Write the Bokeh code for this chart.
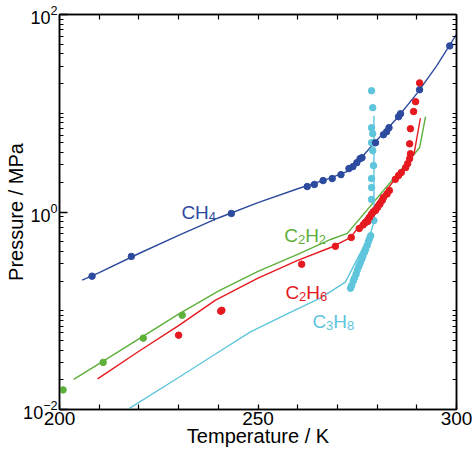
from bokeh.plotting import figure
from bokeh.models import FixedTicker, LinearAxis, LogAxis, Range1d, Label
from bokeh.embed import file_html
from bokeh.resources import INLINE

# ---------------- data ----------------
ch4_pts_T = [208.2, 218.1, 243.3, 262.4, 264.2, 266.4, 268.7, 270.9, 272.9, 273.9,
             274.9, 275.7, 276.2, 279.6, 281.6, 282.4, 283.0, 285.4, 285.9, 290.7, 298.3]
ch4_pts_P = [0.224, 0.355, 0.966, 1.81, 1.90, 2.08, 2.18, 2.39, 2.75, 2.88,
             3.16, 3.47, 3.55, 5.03, 6.06, 6.5, 7.14, 9.22, 9.89, 17.3, 48.1]
ch4_line_T = [205.7, 210, 220, 230, 240, 250, 260, 268, 273, 276, 280, 285, 290, 295, 300]
ch4_line_P = [0.204, 0.243, 0.38, 0.58, 0.87, 1.245, 1.72, 2.19, 2.63, 3.55, 5.37, 8.9, 15.8, 30.2, 63.0]

c2h2_pts_T = [200.9, 211.0, 221.1, 230.9]
c2h2_pts_P = [0.0158, 0.030, 0.0528, 0.090]
c2h2_line_T = [203.6, 210, 220, 230, 240, 250, 260, 268.3, 272.5, 290.7, 292.2]
c2h2_line_P = [0.0202, 0.0292, 0.0519, 0.0923, 0.158, 0.251, 0.372, 0.527, 0.607, 4.47, 9.23]

c2h6_pts_T = [230.0, 240.6, 240.9, 261.0, 269.5, 273.5, 275.5, 276.5, 277.0, 277.6, 278.1,
              278.6, 279.0, 279.6, 280.1, 280.7, 281.3, 281.6, 282.5, 283.1, 284.6, 285.4,
              286.1, 287.2, 287.7, 288.2, 288.4, 288.2, 288.4, 289.2, 289.7, 290.7]
c2h6_pts_P = [0.0566, 0.099, 0.101, 0.296, 0.449, 0.552, 0.681, 0.74, 0.78, 0.80, 0.881,
              0.95, 1.0, 1.035, 1.11, 1.2, 1.31, 1.40, 1.52, 1.65, 2.14, 2.34,
              2.51, 2.82, 3.09, 3.47, 3.89, 4.9, 6.97, 10.4, 13.1, 20.3]
c2h6_line_T = [209.6, 220, 230, 239.3, 250, 260, 268.3, 273.3, 289.3, 290.9]
c2h6_line_P = [0.0204, 0.0389, 0.0708, 0.128, 0.214, 0.324, 0.437, 0.55, 3.87, 8.9]

c3h8_col_T = [278.6, 278.9, 278.6, 278.9, 278.6, 278.9, 279.1, 278.6, 278.6, 278.6, 279.2]
c3h8_col_P = [16.9, 11.4, 7.14, 6.21, 5.04, 4.18, 2.95, 2.18, 1.77, 1.34, 0.82]
c3h8_streak_T = [273.3, 273.6, 274.0, 274.3, 274.7, 275.0, 275.4, 275.7, 276.1, 276.4,
                 276.8, 277.1, 277.5, 277.8, 278.1, 278.4]
c3h8_streak_P = [0.169, 0.181, 0.200, 0.214, 0.234, 0.257, 0.282, 0.302, 0.331, 0.355,
                 0.389, 0.417, 0.457, 0.501, 0.537, 0.575]
c3h8_line_T = [217.5, 230, 240, 248.1, 258, 265.8, 272.0, 278.3, 279.2, 279.2]
c3h8_line_P = [0.0102, 0.0211, 0.038, 0.0611, 0.0955, 0.135, 0.195, 0.603, 0.789, 9.44]

x_major = [200, 250, 300]
x_minor = [210, 220, 230, 240, 260, 270, 280, 290]
y_major = [0.01, 1, 100]
y_minor = [0.02, 0.03, 0.04, 0.05, 0.06, 0.07, 0.08, 0.09, 0.1,
           0.2, 0.3, 0.4, 0.5, 0.6, 0.7, 0.8, 0.9,
           2, 3, 4, 5, 6, 7, 8, 9, 10,
           20, 30, 40, 50, 60, 70, 80, 90]

BLUE = "#2d4b9e"
GREEN = "#5db03a"
RED = "#e5191f"
CYAN = "#5ec5dc"
FONT = "Liberation Sans"

p = figure(width=474, height=454, y_axis_type="log",
           x_range=Range1d(200, 300), y_range=Range1d(0.01, 100),
           output_backend="svg", toolbar_location=None,
           min_border_left=59, min_border_right=18, min_border_top=14, min_border_bottom=45)
p.xgrid.grid_line_color = None
p.ygrid.grid_line_color = None
p.outline_line_color = "black"
p.outline_line_width = 1.5
p.background_fill_color = "white"
p.border_fill_color = "white"

xt = FixedTicker(ticks=x_major, minor_ticks=x_minor)
yt = FixedTicker(ticks=y_major, minor_ticks=y_minor)
# mirrored (unlabelled) axes: every tick as a minor tick, no major ticks -> no labels
xt_top = FixedTicker(ticks=[], minor_ticks=x_major + x_minor)
yt_right = FixedTicker(ticks=[], minor_ticks=y_major + y_minor)

def style_axis(ax):
    ax.axis_line_color = "black"
    ax.axis_line_width = 1.5
    ax.major_tick_line_color = "black"
    ax.minor_tick_line_color = "black"
    ax.major_tick_line_width = 1.3
    ax.minor_tick_line_width = 1.2
    ax.major_tick_out = 0
    ax.minor_tick_out = 0
    ax.major_label_text_font = FONT
    ax.major_label_text_color = "black"
    ax.axis_label_text_color = "black"

xa = p.xaxis[0]
xa.ticker = xt
style_axis(xa)
xa.major_label_text_font_size = "19px"
xa.major_tick_in = 5
xa.minor_tick_in = 5
xa.major_label_standoff = 2
xa.axis_label = "Temperature / K"
xa.axis_label_text_font = FONT
xa.axis_label_text_font_style = "normal"
xa.axis_label_text_font_size = "20px"
xa.axis_label_standoff = -3

ya = p.yaxis[0]
ya.ticker = yt
style_axis(ya)
ya.major_label_text_font_size = "18px"
ya.major_tick_in = 8
ya.minor_tick_in = 4
ya.major_label_standoff = 2
ya.axis_label = "Pressure / MPa"
ya.axis_label_text_font = FONT
ya.axis_label_text_font_style = "normal"
ya.axis_label_text_font_size = "20px"
ya.axis_label_standoff = -7

top = LinearAxis(ticker=xt_top)
style_axis(top)
top.minor_tick_in = 5
top.major_label_standoff = 0
p.add_layout(top, "above")

right = LogAxis(ticker=yt_right)
style_axis(right)
right.minor_tick_in = 4
right.major_label_standoff = 0
p.add_layout(right, "right")

# lines
p.line(ch4_line_T, ch4_line_P, line_color=BLUE, line_width=1.4)
p.line(c2h2_line_T, c2h2_line_P, line_color=GREEN, line_width=1.4)
p.line(c2h6_line_T, c2h6_line_P, line_color=RED, line_width=1.4)
p.line(c3h8_line_T, c3h8_line_P, line_color=CYAN, line_width=1.4)

# points
p.scatter(c3h8_col_T, c3h8_col_P, size=6.5, color=CYAN)
p.scatter(c3h8_streak_T, c3h8_streak_P, size=6.5, color=CYAN)
p.scatter(ch4_pts_T, ch4_pts_P, size=6.5, color=BLUE)
p.scatter(c2h2_pts_T, c2h2_pts_P, size=6.5, color=GREEN)
p.scatter(c2h6_pts_T, c2h6_pts_P, size=6.5, color=RED)

# formula labels (main letters + subscripts)
MAIN, SUB = 19, 13
def chem(x, y, parts, color):
    off = 0.0
    for txt, sub in parts:
        size = SUB if sub else MAIN
        p.add_layout(Label(x=x, y=y, x_offset=off, y_offset=(-4 if sub else 0),
                           text=txt, text_font=FONT, text_font_size=f"{size}px",
                           text_color=color, text_baseline="alphabetic", text_align="left"))
        off += (0.556 * size) if sub else (0.722 * size * len(txt))

chem(230.7, 0.989, [("CH", False), ("4", True)], BLUE)
chem(256.6, 0.579, [("C", False), ("2", True), ("H", False), ("2", True)], GREEN)
chem(256.9, 0.154, [("C", False), ("2", True), ("H", False), ("6", True)], RED)
chem(263.7, 0.0783, [("C", False), ("3", True), ("H", False), ("8", True)], CYAN)

open("out.html", "w").write(file_html(p, INLINE))
